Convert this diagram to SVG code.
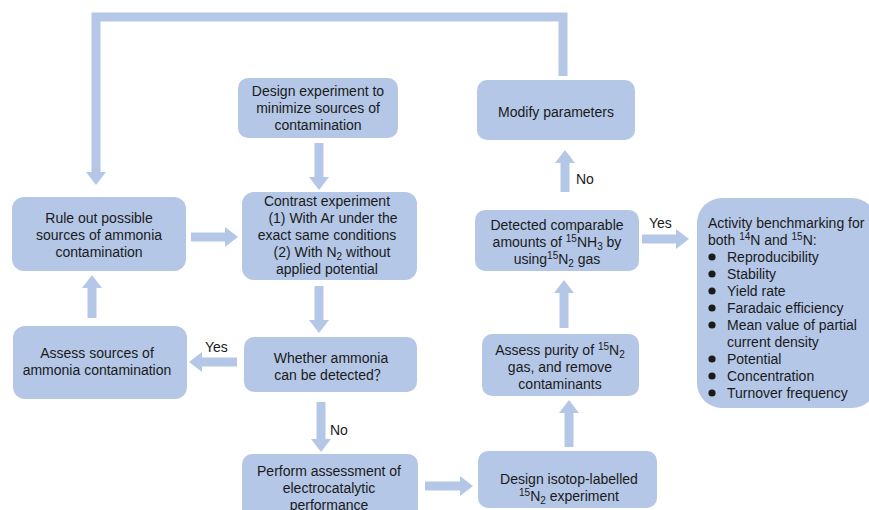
<svg xmlns="http://www.w3.org/2000/svg" width="869" height="510" viewBox="0 0 869 510">
<style>
.box{fill:#b4c7e7;}
text{font-family:"Liberation Sans","Noto Sans CJK SC",Arial,sans-serif;font-size:14px;fill:#1a1a1a;}
.c{text-anchor:middle;}
.s{font-size:10px;}
.conn line,.conn polyline{stroke:#b4c7e7;stroke-width:9;fill:none;}
</style>
<defs>
<marker id="ah" markerUnits="userSpaceOnUse" markerWidth="13" markerHeight="20" refX="1" refY="10" orient="auto">
<path d="M0,0 L13,10 L0,20 Z" fill="#b4c7e7"/>
</marker>
</defs>
<g class="conn">
<polyline points="563,76 563,17 96,17 96,173" stroke-width="10" stroke-linejoin="miter" marker-end="url(#ah)"/>
<line x1="319" y1="143" x2="319" y2="178" marker-end="url(#ah)"/>
<line x1="191" y1="237" x2="226" y2="237" marker-end="url(#ah)"/>
<line x1="319" y1="286" x2="319" y2="321" marker-end="url(#ah)"/>
<line x1="237" y1="362" x2="201" y2="362" marker-end="url(#ah)"/>
<line x1="92" y1="318" x2="92" y2="287" marker-end="url(#ah)"/>
<line x1="321" y1="402" x2="321" y2="440" marker-end="url(#ah)"/>
<line x1="425" y1="486" x2="461" y2="486" marker-end="url(#ah)"/>
<line x1="569" y1="447" x2="569" y2="412" marker-end="url(#ah)"/>
<line x1="564" y1="328" x2="564" y2="292" marker-end="url(#ah)"/>
<line x1="565" y1="192" x2="565" y2="162" marker-end="url(#ah)"/>
<line x1="642" y1="239" x2="677" y2="239" marker-end="url(#ah)"/>
<text x="576" y="184">No</text>
<text x="205" y="352">Yes</text>
<text x="330" y="435">No</text>
<text x="649" y="228">Yes</text>
</g>
<g id="design">
<rect class="box" x="238" y="78" width="160" height="60" rx="10"/>
<text class="c" x="318" y="96">Design experiment to</text>
<text class="c" x="318" y="113">minimize sources of</text>
<text class="c" x="318" y="130">contamination</text>
</g>
<g id="modify">
<rect class="box" x="477" y="80" width="158" height="60" rx="10"/>
<text class="c" x="556" y="117">Modify parameters</text>
</g>
<g id="ruleout">
<rect class="box" x="12" y="197" width="174" height="74" rx="12"/>
<text class="c" x="99" y="223">Rule out possible</text>
<text class="c" x="99" y="240">sources of ammonia</text>
<text class="c" x="99" y="257">contamination</text>
</g>
<g id="contrast">
<rect class="box" x="242" y="192" width="175" height="88" rx="12"/>
<text class="c" x="327" y="206">Contrast experiment</text>
<text class="c" x="333" y="223">(1) With Ar under the</text>
<text class="c" x="327" y="240">exact same conditions</text>
<text class="c" x="332" y="257">(2) With N<tspan class="s" dy="3">2</tspan><tspan dy="-3"> without</tspan></text>
<text class="c" x="327" y="274">applied potential</text>
</g>
<g id="assess">
<rect class="box" x="13" y="326" width="174" height="73" rx="12"/>
<text class="c" x="97" y="358">Assess sources of</text>
<text class="c" x="97" y="375">ammonia contamination</text>
</g>
<g id="whether">
<rect class="box" x="244" y="337" width="173" height="55" rx="10"/>
<text class="c" x="331" y="363">Whether ammonia</text>
<text class="c" x="331" y="380">can be detected？</text>
</g>
<g id="perform">
<rect class="box" x="242" y="454" width="176" height="70" rx="10"/>
<text class="c" x="329" y="476">Perform assessment of</text>
<text class="c" x="329" y="493">electrocatalytic</text>
<text class="c" x="329" y="510">performance</text>
</g>
<g id="isotope">
<rect class="box" x="478" y="451" width="179" height="57" rx="10"/>
<text class="c" x="569" y="484">Design isotop-labelled</text>
<text class="c" x="569" y="501"><tspan class="s" dy="-5">15</tspan><tspan dy="5">N</tspan><tspan class="s" dy="3">2</tspan><tspan dy="-3"> experiment</tspan></text>
</g>
<g id="purity">
<rect class="box" x="482" y="334" width="157" height="62" rx="10"/>
<text class="c" x="560" y="355">Assess purity of <tspan class="s" dy="-5">15</tspan><tspan dy="5">N</tspan><tspan class="s" dy="3">2</tspan></text>
<text class="c" x="560" y="372">gas, and remove</text>
<text class="c" x="560" y="389">contaminants</text>
</g>
<g id="detected">
<rect class="box" x="475" y="210" width="164" height="61" rx="10"/>
<text class="c" x="557" y="230">Detected comparable</text>
<text class="c" x="557" y="247">amounts of <tspan class="s" dy="-5">15</tspan><tspan dy="5">NH</tspan><tspan class="s" dy="3">3</tspan><tspan dy="-3"> by</tspan></text>
<text class="c" x="557" y="264">using<tspan class="s" dy="-5">15</tspan><tspan dy="5">N</tspan><tspan class="s" dy="3">2</tspan><tspan dy="-3"> gas</tspan></text>
</g>
<g id="activity">
<rect class="box" x="697" y="198" width="180" height="210" rx="25"/>
<text x="708" y="228">Activity benchmarking for</text>
<text x="708" y="245">both <tspan class="s" dy="-5">14</tspan><tspan dy="5">N and </tspan><tspan class="s" dy="-5">15</tspan><tspan dy="5">N:</tspan></text>
<g fill="#1a1a1a">
<circle cx="712" cy="257" r="3.6"/>
<circle cx="712" cy="274" r="3.6"/>
<circle cx="712" cy="291" r="3.6"/>
<circle cx="712" cy="308" r="3.6"/>
<circle cx="712" cy="325" r="3.6"/>
<circle cx="712" cy="359" r="3.6"/>
<circle cx="712" cy="376" r="3.6"/>
<circle cx="712" cy="393" r="3.6"/>
</g>
<text x="727" y="262">Reproducibility</text>
<text x="727" y="279">Stability</text>
<text x="727" y="296">Yield rate</text>
<text x="727" y="313">Faradaic efficiency</text>
<text x="727" y="330">Mean value of partial</text>
<text x="727" y="347">current density</text>
<text x="727" y="364">Potential</text>
<text x="727" y="381">Concentration</text>
<text x="727" y="398">Turnover frequency</text>
</g>
</svg>
